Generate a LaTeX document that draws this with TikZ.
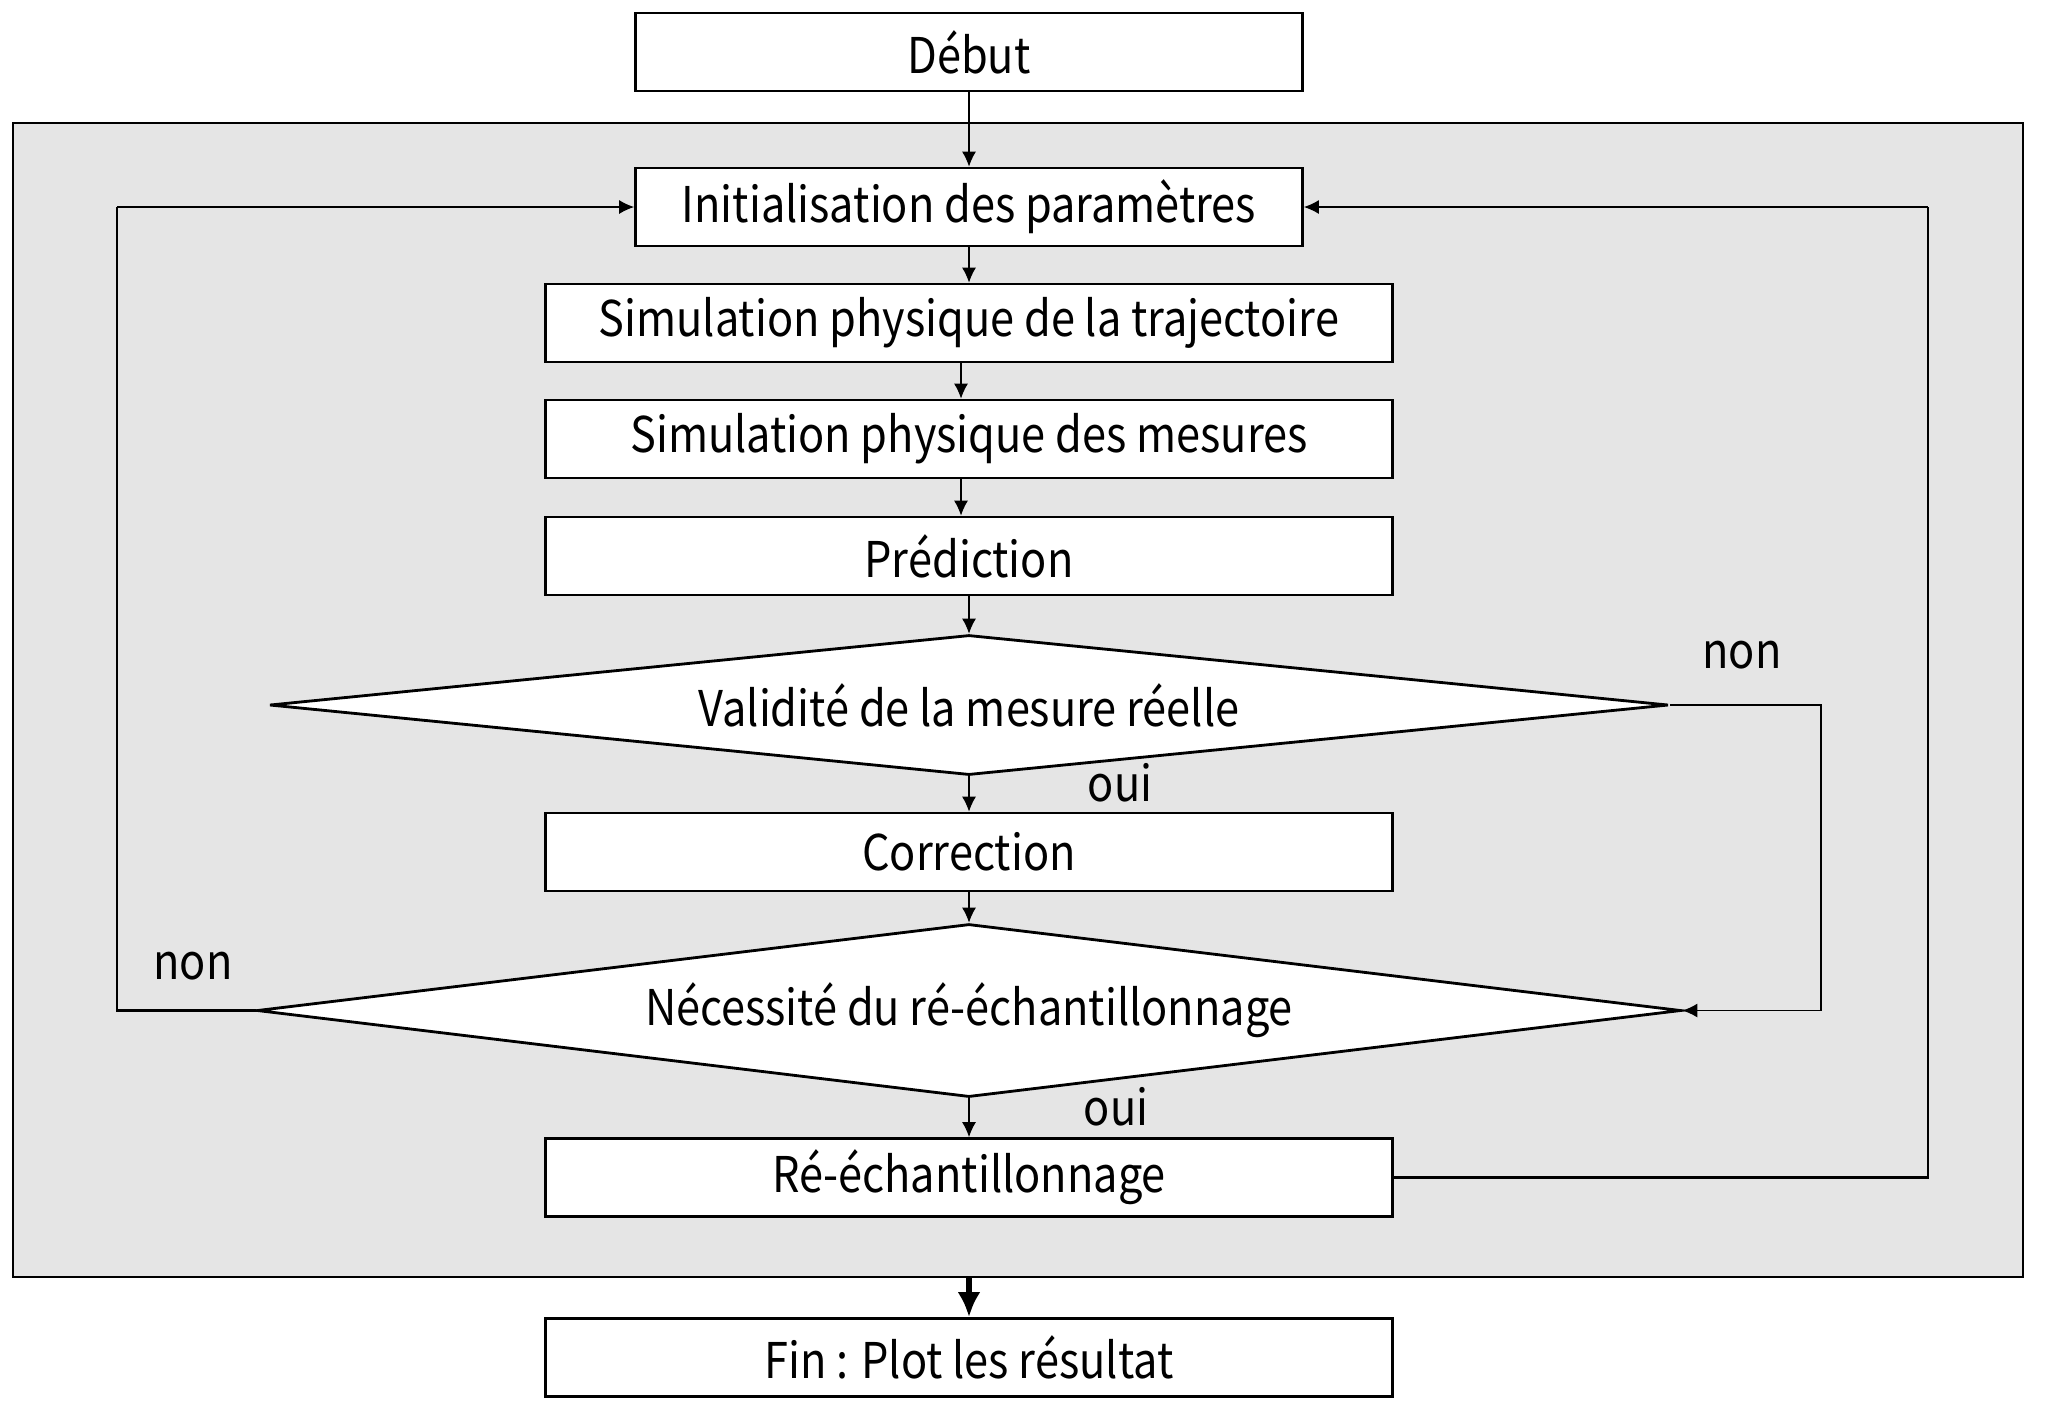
\documentclass[tikz,border=0pt]{standalone}
\usepackage{fontspec}
\setmainfont[FakeStretch=0.88]{Noto Sans CJK SC}
\usetikzlibrary{shapes.geometric, arrows.meta, positioning}

\tikzset{
    boite/.style={draw, line width=0.8pt, fill=white, minimum height=0.78cm, inner sep=0pt},
    losange/.style={draw, diamond, aspect=10, line width=0.8pt, fill=white, inner sep=0pt},
    fleche/.style={-{Latex[length=1.5mm,width=1.4mm]}, line width=0.35pt},
    boucle/.style={line width=0.8pt},
}

\begin{document}
\begin{tikzpicture}[font=\fontsize{14pt}{17pt}\selectfont]
    \useasboundingbox (0,0) rectangle (20.58,-14.10);

    % cadre gris de la boucle
    \node[draw, line width=0.8pt, fill=black!10, minimum width=20.10cm, minimum height=11.54cm] (cadre) at (10.18,-7.00) {};

    \node[boite, minimum width=6.67cm] (debut) at (9.69,-0.52) {Début};
    \node[boite, minimum width=6.67cm] (init) at (9.69,-2.07) {Initialisation des paramètres};
    \node[boite, minimum width=8.47cm] (traj) at (9.69,-3.23) {Simulation physique de la trajectoire};
    \node[boite, minimum width=8.47cm] (mes) at (9.69,-4.39) {Simulation physique des mesures};
    \node[boite, minimum width=8.47cm] (pred) at (9.69,-5.56) {Prédiction};
    \node[losange, minimum width=13.99cm, minimum height=1.40cm] (valid) at (9.69,-7.05) {Validité de la mesure réelle};
    \node[boite, minimum width=8.47cm] (corr) at (9.69,-8.52) {Correction};
    \node[losange, minimum width=14.24cm, minimum height=1.73cm] (besoin) at (9.69,-10.105) {Nécessité du ré-échantillonnage};
    \node[boite, minimum width=8.47cm] (reech) at (9.69,-11.775) {Ré-échantillonnage};
    \node[boite, minimum width=8.47cm] (fin) at (9.69,-13.575) {Fin : Plot les résultat};

    \node (non1) at (17.42,-6.55) {non};
    \node (oui1) at (11.20,-7.83) {oui};
    \node (non2) at (1.93,-9.66) {non};
    \node (oui2) at (11.16,-11.07) {oui};

    \coordinate (gauche) at (1.17,0);
    \coordinate (droite1) at (18.21,0);
    \coordinate (droite2) at (19.28,0);

    \draw[fleche] (debut) -- (init);
    \draw[fleche] (init) -- (traj);
    \draw[fleche] ([xshift=-0.08cm]traj.south) -- ([xshift=-0.08cm]mes.north);
    \draw[fleche] ([xshift=-0.08cm]mes.south) -- ([xshift=-0.08cm]pred.north);
    \draw[fleche] (pred) -- (valid);
    \draw[fleche] (valid) -- (corr);
    \draw[fleche] (corr) -- (besoin);
    \draw[fleche] (besoin) -- (reech);
    \draw[-{Latex[length=2.5mm,width=2.3mm]}, line width=1.8pt] (cadre.south -| fin.north) -- (fin.north);

    % retours
    \draw[boucle] (besoin.west) -- (besoin.west -| gauche) -- (init.west -| gauche);
    \draw[fleche] (init.west -| gauche) -- (init.west);
    \draw[boucle] (valid.east) -- (valid.east -| droite1) -- (besoin.east -| droite1);
    \draw[fleche] (besoin.east -| droite1) -- (besoin.east);
    \draw[boucle] (reech.east) -- (reech.east -| droite2) -- (init.east -| droite2);
    \draw[fleche] (init.east -| droite2) -- (init.east);
\end{tikzpicture}
\end{document}
